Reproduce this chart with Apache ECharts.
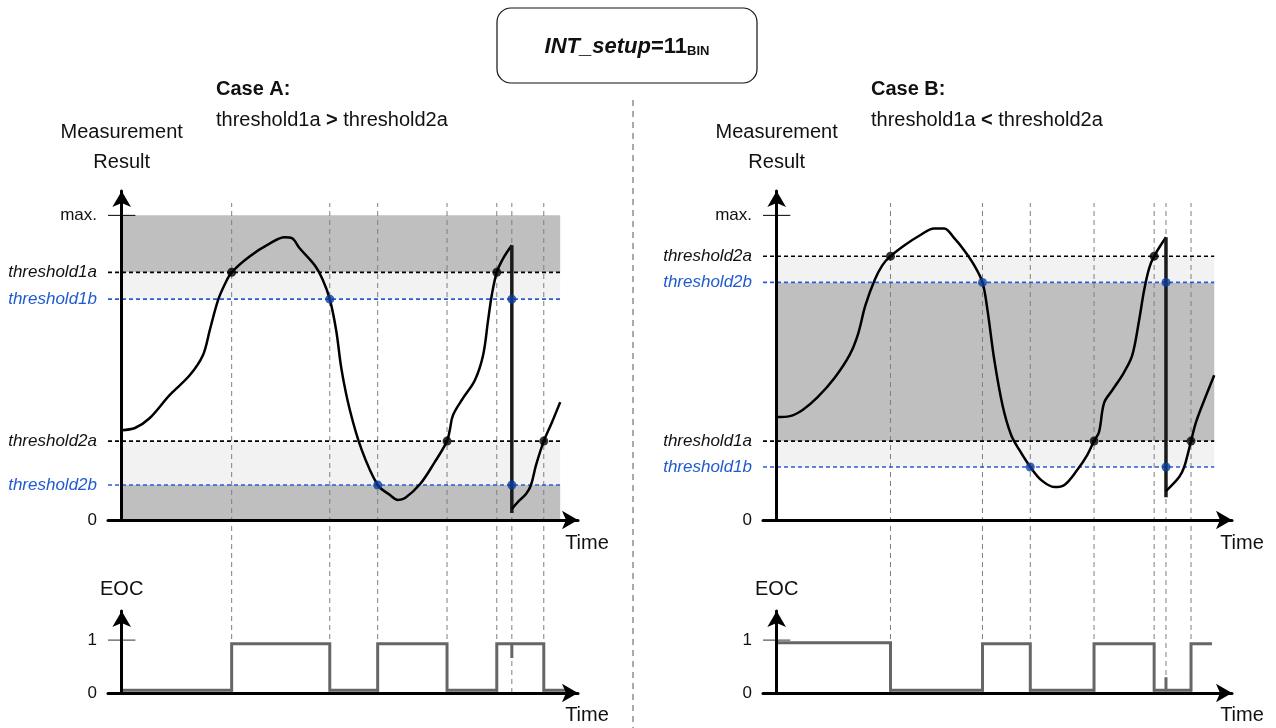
<!DOCTYPE html>
<html>
<head>
<meta charset="utf-8">
<title>INT_setup=11BIN</title>
<script src="https://cdn.jsdelivr.net/npm/echarts@6/dist/echarts.min.js"></script>
<style>
  html, body { margin: 0; padding: 0; background: #fff; }
  #chart { width: 1276px; height: 728px; }
</style>
</head>
<body>
<div id="chart"></div>
<script>
// time axis 0..100, measurement axis 0..max (max = 100)
const levelMax = 100
const shadeEnd = 96.1

// Case A: threshold1a > threshold2a
const thresholdNamesA = ['threshold1a', 'threshold1b', 'threshold2a', 'threshold2b']
const thresholdValuesA = [81.3, 72.5, 25.9, 11.5]
const darkBandsA = [[81.3, 100], [0, 11.5]]
const lightBandsA = [[72.5, 81.3], [11.5, 25.9]]
const eventsA = [24.1, 45.6, 56.1, 71.3, 82.2, 85.5, 92.5]
const curveA1 = [[0, 29.5], [2.9, 30.2], [6.1, 33.4], [10.5, 41.0], [14.9, 47.5], [17.8, 54.1], [19.3, 62.3],
  [21.1, 72.1], [22.6, 77.4], [24.1, 81.3], [28.1, 86.6], [32.5, 90.8], [35.7, 92.8], [37.3, 92.5],
  [39.0, 89.2], [42.3, 83.6], [44.1, 78.7], [45.6, 72.5], [47.0, 62.3], [48.2, 49.2], [50.0, 36.1],
  [52.6, 23.0], [56.1, 11.5], [58.8, 8.2], [60.5, 6.6], [62.1, 7.2], [65.4, 11.8], [68.6, 19.0],
  [71.3, 25.9], [71.9, 29.5], [72.6, 34.4], [74.8, 40.0], [77.4, 45.9], [79.2, 54.1], [80.3, 65.6],
  [81.1, 73.8], [82.2, 81.3], [83.6, 85.9], [85.5, 90.2]]
const dropA = [[85.5, 90.2], [85.5, 2.3]]
const curveA2 = [[85.5, 3.6], [87.0, 6.2], [88.6, 8.5], [89.7, 11.5], [90.8, 18.0], [92.5, 25.9],
  [94.3, 32.1], [96.1, 38.7]]
const hitsA = [[24.1, 81.3], [71.3, 25.9], [82.2, 81.3], [92.5, 25.9]]
const hitsBlueA = [[45.6, 72.5], [56.1, 11.5], [85.5, 72.5], [85.5, 11.5]]
const eocA = [[0, 0.05], [24.1, 0.05], [24.1, 0.93], [45.6, 0.93], [45.6, 0.05], [56.1, 0.05], [56.1, 0.93],
  [71.3, 0.93], [71.3, 0.05], [82.2, 0.05], [82.2, 0.93], [85.5, 0.93], [85.5, 0.66], [85.5, 0.93],
  [92.5, 0.93], [92.5, 0.05], [97.8, 0.05]]

// Case B: threshold1a < threshold2a
const thresholdNamesB = ['threshold2a', 'threshold2b', 'threshold1a', 'threshold1b']
const thresholdValuesB = [86.6, 78.0, 25.9, 17.4]
const darkBandsB = [[25.9, 78.0]]
const lightBandsB = [[78.0, 86.6], [17.4, 25.9]]
const eventsB = [25.0, 45.2, 55.7, 69.7, 82.9, 85.5, 91.0]
const curveB1 = [[0, 33.8], [2.9, 34.1], [5.7, 36.1], [9.0, 40.3], [12.7, 46.6], [16.0, 54.1], [17.8, 60.7],
  [19.5, 70.5], [21.5, 78.7], [23.2, 83.6], [25.0, 86.6], [28.1, 90.2], [31.4, 93.4], [34.6, 95.7],
  [36.8, 95.7], [39.0, 92.5], [41.2, 88.5], [43.4, 83.6], [45.2, 78.0], [46.3, 68.9], [47.8, 52.5],
  [49.6, 37.7], [51.5, 27.9], [53.3, 23.0], [55.7, 17.4], [58.1, 13.1], [61.0, 10.8], [63.2, 11.5],
  [66.0, 16.4], [68.2, 21.3], [69.7, 25.9], [70.8, 28.9], [71.9, 38.4], [73.7, 42.6], [76.3, 48.5],
  [78.1, 54.1], [79.6, 65.6], [80.7, 75.4], [81.8, 82.6], [82.9, 86.6], [85.5, 92.8]]
const dropB = [[85.5, 92.8], [85.5, 7.5]]
const curveB2 = [[85.5, 9.5], [88.4, 14.1], [89.5, 17.4], [90.4, 22.3], [91.0, 25.9], [92.1, 32.1],
  [93.9, 39.3], [96.1, 47.5]]
const hitsB = [[25.0, 86.6], [69.7, 25.9], [82.9, 86.6], [91.0, 25.9]]
const hitsBlueB = [[45.2, 78.0], [55.7, 17.4], [85.5, 78.0], [85.5, 17.4]]
const eocB = [[0, 0.95], [25.0, 0.95], [25.0, 0.05], [45.2, 0.05], [45.2, 0.93], [55.7, 0.93], [55.7, 0.05],
  [69.7, 0.05], [69.7, 0.93], [82.9, 0.93], [82.9, 0.05], [85.5, 0.05], [85.5, 0.30], [85.5, 0.05],
  [91.0, 0.05], [91.0, 0.93], [95.6, 0.93]]

const FONT = '"Liberation Sans", Arial, Helvetica, sans-serif'
const BLUE = '#1f5bd0'
const BLUE_LINE = '#2a5bd7'
const BLUE_DOT = '#0b3c9c'
const DARK = '#bfbfbf'
const LIGHT = '#f2f2f2'

const chart = echarts.init(document.getElementById('chart'))

function yLabel(names, values) {
  const ticks = [0].concat(values, [levelMax])
  const labels = ['0'].concat(names, ['max.'])
  return {
    customValues: ticks,
    margin: 11,
    formatter(v) {
      let k = 0
      ticks.forEach((t, i) => { if (Math.abs(t - v) < Math.abs(ticks[k] - v)) k = i })
      const s = labels[k]
      if (s.indexOf('threshold') !== 0) return '{n|' + s + '}'
      return (s.slice(-1) === 'b' ? '{b|' : '{a|') + s + '}'
    },
    rich: {
      n: { fontSize: 17, color: '#111', fontFamily: FONT },
      a: { fontSize: 17, color: '#111', fontStyle: 'italic', fontFamily: FONT },
      b: { fontSize: 17, color: BLUE, fontStyle: 'italic', fontFamily: FONT }
    }
  }
}

function arrowLine() {
  return { show: true, onZero: true, symbol: ['none', 'arrow'], symbolSize: [14, 16],
    lineStyle: { color: '#000', width: 3 } }
}

function timeAxis(gi, gap, pad) {
  return {
    type: 'value', gridIndex: gi, min: -3, max: 100, z: 6,
    axisLine: arrowLine(), axisTick: { show: false }, axisLabel: { show: false }, splitLine: { show: false },
    name: 'Time', nameLocation: 'end', nameGap: gap, nameMoveOverlap: false,
    nameTextStyle: { fontSize: 20, color: '#111', fontFamily: FONT, align: 'center', verticalAlign: 'top', padding: [pad, 0, 0, 0] }
  }
}

function hiddenAxis(gi, min, max) {
  return { type: 'value', gridIndex: gi, min, max, show: false }
}

const grids = []
const xAxes = []
const yAxes = []
const series = []

function buildPanel(left, right, names, values, dark, light, events, c1, drop, c2, hits, hitsBlue, eoc, timeGap) {
  const g = grids.length
  grids.push({ left, right, top: 191, bottom: 208, outerBoundsMode: 'none' })
  grids.push({ left, right, top: 611, bottom: 35, outerBoundsMode: 'none' })
  grids.push({ left, right, top: 203, bottom: 35, outerBoundsMode: 'none' })

  xAxes.push(timeAxis(g, timeGap, 13))
  xAxes.push(timeAxis(g + 1, timeGap, 12))
  xAxes.push(hiddenAxis(g + 2, -3, 100))

  yAxes.push({
    type: 'value', gridIndex: g, min: 0, max: 108, z: 6,
    axisLine: arrowLine(), axisTick: { show: false }, splitLine: { show: false },
    axisLabel: yLabel(names, values),
    name: 'Measurement\nResult', nameLocation: 'end', nameGap: 14, nameMoveOverlap: false,
    nameTextStyle: { fontSize: 20, lineHeight: 30, color: '#111', fontFamily: FONT, align: 'center', verticalAlign: 'bottom' }
  })
  yAxes.push({
    type: 'value', gridIndex: g + 1, min: 0, max: 1.55, z: 6,
    axisLine: arrowLine(), axisTick: { show: false }, splitLine: { show: false },
    axisLabel: { customValues: [0, 1], margin: 11, fontSize: 17, color: '#111', fontFamily: FONT },
    name: 'EOC', nameLocation: 'end', nameGap: 12, nameMoveOverlap: false,
    nameTextStyle: { fontSize: 20, color: '#111', fontFamily: FONT, align: 'center', verticalAlign: 'bottom' }
  })
  yAxes.push(hiddenAxis(g + 2, 0, 1))

  const areas = []
  dark.forEach(b => areas.push([{ xAxis: 0, yAxis: b[0], itemStyle: { color: DARK } }, { xAxis: shadeEnd, yAxis: b[1] }]))
  light.forEach(b => areas.push([{ xAxis: 0, yAxis: b[0], itemStyle: { color: LIGHT } }, { xAxis: shadeEnd, yAxis: b[1] }]))
  series.push({
    type: 'line', xAxisIndex: g, yAxisIndex: g, data: [], z: 1, silent: true,
    markArea: { silent: true, data: areas }
  })

  // dashed event lines through both plots
  const ev = []
  events.forEach(t => { ev.push([t, 0], [t, 1], [t, '-']) })
  series.push({
    type: 'line', xAxisIndex: g + 2, yAxisIndex: g + 2, data: ev, z: 2, symbol: 'none', silent: true,
    lineStyle: { color: '#7f7f7f', width: 1, type: [5, 4] }
  })

  names.forEach((n, i) => {
    const isB = n.slice(-1) === 'b'
    series.push({
      type: 'line', xAxisIndex: g, yAxisIndex: g, z: 3, symbol: 'none', silent: true,
      data: [[-3, values[i]], [shadeEnd, values[i]]],
      lineStyle: { color: isB ? BLUE_LINE : '#000', width: 1.6, type: [4, 3] }
    })
  })

  // cross ticks at max. and at 1
  series.push({
    type: 'line', xAxisIndex: g, yAxisIndex: g, z: 3, symbol: 'none', silent: true,
    data: [[-3, levelMax], [3, levelMax]], lineStyle: { color: '#000', width: 1 }
  })
  series.push({
    type: 'line', xAxisIndex: g + 1, yAxisIndex: g + 1, z: 3, symbol: 'none', silent: true,
    data: [[-3, 1], [3, 1]], lineStyle: { color: '#333', width: 1 }
  })

  const curveStyle = { color: '#000', width: 2.5 }
  series.push({ type: 'line', xAxisIndex: g, yAxisIndex: g, z: 4, symbol: 'none', smooth: 0.35, data: c1, lineStyle: curveStyle })
  series.push({ type: 'line', xAxisIndex: g, yAxisIndex: g, z: 4, symbol: 'none', data: drop, lineStyle: { color: '#1a1a1a', width: 3.5 } })
  series.push({ type: 'line', xAxisIndex: g, yAxisIndex: g, z: 4, symbol: 'none', smooth: 0.35, data: c2, lineStyle: curveStyle })

  series.push({ type: 'scatter', xAxisIndex: g, yAxisIndex: g, z: 5, symbolSize: 9, data: hits, itemStyle: { color: '#000' } })
  series.push({ type: 'scatter', xAxisIndex: g, yAxisIndex: g, z: 5, symbolSize: 9, data: hitsBlue, itemStyle: { color: BLUE_DOT } })

  series.push({
    type: 'line', xAxisIndex: g + 1, yAxisIndex: g + 1, z: 4, symbol: 'none', data: eoc,
    lineStyle: { color: '#666', width: 3, join: 'miter' }
  })
}

buildPanel(108, 698, thresholdNamesA, thresholdValuesA, darkBandsA, lightBandsA, eventsA,
  curveA1, dropA, curveA2, hitsA, hitsBlueA, eocA, 9)
buildPanel(763, 44, thresholdNamesB, thresholdValuesB, darkBandsB, lightBandsB, eventsB,
  curveB1, dropB, curveB2, hitsB, hitsBlueB, eocB, 10)

function caseLabel(x, title, left, op, right) {
  return [
    { type: 'text', x, y: 89, style: { text: title, fontSize: 20, fontWeight: 'bold', fontFamily: FONT, fill: '#111', align: 'left', verticalAlign: 'middle' } },
    {
      type: 'text', x, y: 120,
      style: {
        text: left + ' {g|' + op + '} ' + right, fontSize: 20, fontFamily: FONT, fill: '#111',
        align: 'left', verticalAlign: 'middle',
        rich: { g: { fontSize: 20, fontWeight: 'bold', fontFamily: FONT, fill: '#111' } }
      }
    }
  ]
}

chart.setOption({
  animation: false,
  textStyle: { fontFamily: FONT },
  grid: grids,
  xAxis: xAxes,
  yAxis: yAxes,
  series: series,
  graphic: [
    { type: 'rect', shape: { x: 497, y: 8, width: 260, height: 75, r: 14 }, style: { fill: '#fff', stroke: '#111', lineWidth: 1.2 } },
    {
      type: 'text', x: 627, y: 46,
      style: {
        text: '{a|INT_setup}{b|=11}{c|BIN}', align: 'center', verticalAlign: 'middle',
        rich: {
          a: { fontSize: 22, fontWeight: 'bold', fontStyle: 'italic', fontFamily: FONT, fill: '#111', verticalAlign: 'bottom', lineHeight: 24 },
          b: { fontSize: 22, fontWeight: 'bold', fontFamily: FONT, fill: '#111', verticalAlign: 'bottom', lineHeight: 24 },
          c: { fontSize: 13, fontWeight: 'bold', fontFamily: FONT, fill: '#111', verticalAlign: 'bottom', lineHeight: 14 }
        }
      }
    },
    { type: 'line', shape: { x1: 633, y1: 100, x2: 633, y2: 728 }, style: { stroke: '#4d5566', lineWidth: 1, lineDash: [6, 5] } }
  ].concat(
    caseLabel(216, 'Case A:', 'threshold1a', '>', 'threshold2a'),
    caseLabel(871, 'Case B:', 'threshold1a', '<', 'threshold2a')
  )
})
</script>
</body>
</html>
